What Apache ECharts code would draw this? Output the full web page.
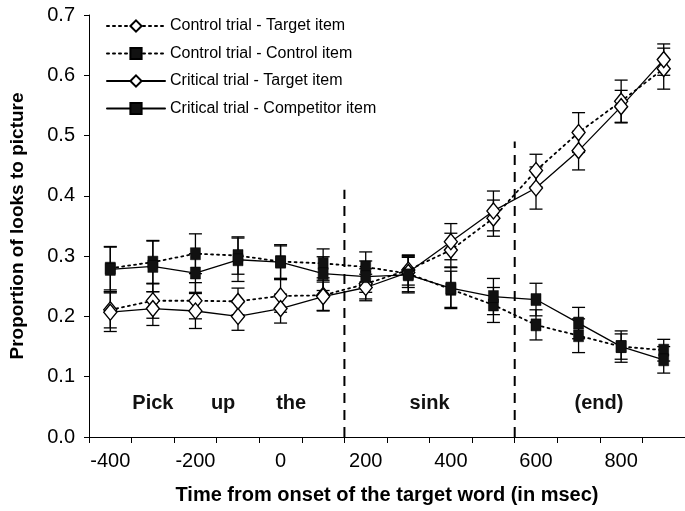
<!DOCTYPE html>
<html><head><meta charset="utf-8">
<script src="https://cdn.jsdelivr.net/npm/echarts@6/dist/echarts.min.js"></script>
<style>html,body{margin:0;padding:0;background:#fff}#c{width:685px;height:511px}</style>
</head><body><div id="c"></div>
<script>
// ---- data ----
const timePoints = [-400, -300, -200, -100, 0, 100, 200, 300, 400, 500, 600, 700, 800, 900];
const controlTarget      = [0.211, 0.226, 0.226, 0.225, 0.234, 0.235, 0.254, 0.277, 0.310, 0.363, 0.442, 0.505, 0.557, 0.611];
const controlTargetErr   = [0.030, 0.029, 0.030, 0.022, 0.027, 0.025, 0.025, 0.025, 0.028, 0.030, 0.027, 0.033, 0.035, 0.034];
const controlControl     = [0.280, 0.290, 0.304, 0.301, 0.291, 0.288, 0.282, 0.271, 0.245, 0.219, 0.186, 0.168, 0.150, 0.144];
const controlControlErr  = [0.036, 0.036, 0.033, 0.031, 0.028, 0.024, 0.025, 0.030, 0.030, 0.029, 0.025, 0.028, 0.026, 0.018];
const criticalTarget     = [0.207, 0.213, 0.209, 0.200, 0.213, 0.233, 0.248, 0.273, 0.324, 0.375, 0.413, 0.475, 0.548, 0.626];
const criticalTargetErr  = [0.032, 0.028, 0.029, 0.023, 0.024, 0.024, 0.022, 0.025, 0.030, 0.033, 0.035, 0.032, 0.027, 0.026];
const criticalCompetitor    = [0.278, 0.283, 0.272, 0.294, 0.290, 0.271, 0.266, 0.269, 0.247, 0.233, 0.228, 0.189, 0.150, 0.128];
const criticalCompetitorErr = [0.037, 0.042, 0.032, 0.036, 0.027, 0.028, 0.026, 0.030, 0.034, 0.030, 0.027, 0.026, 0.021, 0.022];
const seriesNames = ['Control trial - Target item', 'Control trial - Control item', 'Critical trial - Target item', 'Critical trial - Competitor item'];
const xTickValues = [-450, -350, -250, -150, -50, 50, 150, 250, 350, 450, 550, 650, 750, 850];
const xLabelValues = [-400, -200, 0, 200, 400, 600, 800];
const boundaryX = [150, 550];
const boundaryTop = [0.41, 0.49];
const wordText = ['Pick', 'up', 'the', 'sink', '(end)'];
const wordX = [-300, -135, 25, 350, 748];
const wordY = [0.055, 0.055, 0.055, 0.055, 0.055];

// ---- chart ----
const FONT = 'Liberation Sans, Arial, Helvetica, sans-serif';
const chart = echarts.init(document.getElementById('c'), null, {renderer: 'canvas'});

function pairs(vals) { return timePoints.map((t, i) => [t, vals[i]]); }
function errData(vals, errs) { return timePoints.map((t, i) => [t, vals[i] - errs[i], vals[i] + errs[i]]); }

function errRender(params, api) {
  const x = api.value(0), lo = api.value(1), hi = api.value(2);
  const p1 = api.coord([x, lo]), p2 = api.coord([x, hi]);
  const w = 6.5;
  const st = {stroke: '#000', lineWidth: 1.3};
  return {type: 'group', children: [
    {type: 'line', shape: {x1: p1[0], y1: p1[1], x2: p2[0], y2: p2[1]}, style: st},
    {type: 'line', shape: {x1: p1[0] - w, y1: p1[1], x2: p1[0] + w, y2: p1[1]}, style: st},
    {type: 'line', shape: {x1: p2[0] - w, y1: p2[1], x2: p2[0] + w, y2: p2[1]}, style: st}
  ]};
}

function errSeries(vals, errs) {
  return {type: 'custom', renderItem: errRender, data: errData(vals, errs), encode: {x: 0, y: [1, 2]}, z: 1, silent: true, clip: false};
}

const dotted = [2, 4];
function lineSeries(name, vals, dashed, symbol) {
  const isDiamond = symbol === 'diamond';
  return {
    name, type: 'line', data: pairs(vals), z: 3,
    symbol, symbolSize: isDiamond ? [13, 16] : [10, 12],
    showSymbol: true,
    lineStyle: {color: '#000', width: dashed ? 1.8 : 1.3, type: dashed ? dotted : 'solid', cap: 'round'},
    itemStyle: {color: isDiamond ? '#fff' : '#111', borderColor: '#000', borderWidth: isDiamond ? 1.4 : 0.5, opacity: 1},
    emphasis: {disabled: true},
    clip: false
  };
}

const option = {
  animation: false,
  backgroundColor: '#fff',
  grid: {left: 85, right: -3, top: 15, bottom: 74},
  legend: {
    data: seriesNames, orient: 'vertical', left: 101, top: 13,
    itemWidth: 58, itemHeight: 14, itemGap: 11.5,
    textStyle: {fontFamily: FONT, fontSize: 16, color: '#000'},
    selectedMode: false
  },
  xAxis: {
    type: 'value', min: -450, max: 950,
    name: 'Time from onset of the target word (in msec)', nameLocation: 'middle', nameGap: 48,
    nameTextStyle: {fontFamily: FONT, fontSize: 20, fontWeight: 'bold', color: '#000'},
    axisLine: {onZero: false, lineStyle: {color: '#000', width: 1}},
    axisTick: {show: true, length: 6, inside: false, customValues: xTickValues, lineStyle: {color: '#000'}},
    axisLabel: {customValues: xLabelValues, margin: 14, fontFamily: FONT, fontSize: 20, color: '#000'},
    splitLine: {show: false}
  },
  yAxis: {
    type: 'value', min: 0, max: 0.7, interval: 0.1,
    name: 'Proportion of looks to picture', nameLocation: 'middle', nameGap: 62,
    nameTextStyle: {fontFamily: FONT, fontSize: 19, fontWeight: 'bold', color: '#000'},
    axisLine: {show: true, onZero: false, lineStyle: {color: '#000', width: 1}},
    axisTick: {show: true, length: 5, lineStyle: {color: '#000'}},
    axisLabel: {margin: 14, fontFamily: FONT, fontSize: 20, color: '#000', formatter: v => v.toFixed(1)},
    splitLine: {show: false}
  },
  series: [
    {
      type: 'custom', silent: true, z: 0, clip: false,
      data: boundaryX.map((x, i) => [x, 0, boundaryTop[i]]), encode: {x: 0, y: [1, 2]},
      renderItem: (params, api) => {
        const a = api.coord([api.value(0), api.value(1)]), b = api.coord([api.value(0), api.value(2)]);
        return {type: 'line', shape: {x1: a[0], y1: a[1], x2: b[0], y2: b[1]}, style: {stroke: '#000', lineWidth: 2, lineDash: [10, 7]}};
      }
    },
    {
      type: 'custom', silent: true, z: 0, clip: false,
      data: wordText.map((t, i) => [wordX[i], wordY[i], t]), encode: {x: 0, y: 1},
      renderItem: (params, api) => {
        const p = api.coord([api.value(0), api.value(1)]);
        return {type: 'text', x: p[0], y: p[1], style: {text: wordText[params.dataIndex], align: 'center', verticalAlign: 'middle', fontFamily: FONT, fontSize: 20, fontWeight: 'bold', fill: '#111'}};
      }
    },
    errSeries(controlTarget, controlTargetErr),
    errSeries(controlControl, controlControlErr),
    errSeries(criticalTarget, criticalTargetErr),
    errSeries(criticalCompetitor, criticalCompetitorErr),
    lineSeries(seriesNames[0], controlTarget, true, 'diamond'),
    lineSeries(seriesNames[1], controlControl, true, 'rect'),
    lineSeries(seriesNames[2], criticalTarget, false, 'diamond'),
    lineSeries(seriesNames[3], criticalCompetitor, false, 'rect')
  ]
};
chart.setOption(option);
</script>
</body></html>
